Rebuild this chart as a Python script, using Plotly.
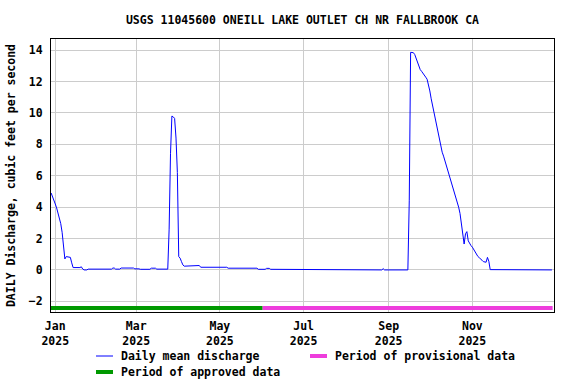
import plotly.graph_objects as go

# ---- data ----
dates = [
    "2024-12-29", "2024-12-30", "2024-12-31", "2025-01-01", "2025-01-02", "2025-01-03",
    "2025-01-04", "2025-01-05", "2025-01-06", "2025-01-07", "2025-01-08", "2025-01-09",
    "2025-01-12", "2025-01-13", "2025-01-14", "2025-01-19", "2025-01-20", "2025-01-21",
    "2025-01-22", "2025-01-24", "2025-01-25", "2025-02-11", "2025-02-12", "2025-02-13",
    "2025-02-14", "2025-02-17", "2025-02-18", "2025-02-27", "2025-02-28", "2025-03-03",
    "2025-03-04", "2025-03-11", "2025-03-12", "2025-03-15", "2025-03-16", "2025-03-24",
    "2025-03-25", "2025-03-26", "2025-03-27", "2025-03-28", "2025-03-29", "2025-03-30",
    "2025-03-31", "2025-04-01", "2025-04-02", "2025-04-03", "2025-04-04", "2025-04-05",
    "2025-04-15", "2025-04-16", "2025-04-17", "2025-05-06", "2025-05-07", "2025-05-28",
    "2025-05-29", "2025-06-03", "2025-06-04", "2025-06-06", "2025-06-07", "2025-07-24",
    "2025-07-25", "2025-07-26", "2025-08-22", "2025-08-23", "2025-08-27", "2025-08-28",
    "2025-08-29", "2025-09-15", "2025-09-16", "2025-09-17", "2025-09-18", "2025-09-19",
    "2025-09-20", "2025-09-21", "2025-09-22", "2025-09-23", "2025-09-24", "2025-09-25",
    "2025-09-26", "2025-09-27", "2025-09-28", "2025-09-29", "2025-09-30", "2025-10-01",
    "2025-10-02", "2025-10-03", "2025-10-04", "2025-10-05", "2025-10-06", "2025-10-07",
    "2025-10-08", "2025-10-09", "2025-10-10", "2025-10-11", "2025-10-12", "2025-10-13",
    "2025-10-14", "2025-10-15", "2025-10-16", "2025-10-17", "2025-10-18", "2025-10-19",
    "2025-10-20", "2025-10-21", "2025-10-22", "2025-10-23", "2025-10-24", "2025-10-25",
    "2025-10-26", "2025-10-27", "2025-10-28", "2025-10-29", "2025-10-30", "2025-10-31",
    "2025-11-01", "2025-11-02", "2025-11-03", "2025-11-04", "2025-11-05", "2025-11-06",
    "2025-11-07", "2025-11-08", "2025-11-09", "2025-11-10", "2025-11-11", "2025-11-12",
    "2025-11-13", "2025-11-14", "2025-12-29",
]
discharge = [
    4.9, 4.7, 4.45, 4.2, 3.95, 3.6,
    3.3, 2.95, 2.4, 1.3, 0.7, 0.85,
    0.8, 0.45, 0.15, 0.15, 0.2, 0.06,
    0.0, 0.0, 0.05, 0.05, 0.12, 0.12,
    0.05, 0.05, 0.12, 0.12, 0.07, 0.07,
    0.04, 0.04, 0.11, 0.11, 0.05, 0.05,
    2.6, 7.4, 9.8, 9.75, 9.65, 8.4,
    6.2, 0.85, 0.75, 0.53, 0.32, 0.24,
    0.24, 0.28, 0.17, 0.17, 0.11, 0.11,
    0.04, 0.04, 0.1, 0.1, 0.04, 0.04,
    0.0, 0.04, 0.04, 0.0, 0.0, 0.08,
    0.0, 0.0, 4.4, 13.86, 13.86, 13.84,
    13.72, 13.47, 13.2, 12.99, 12.76, 12.65,
    12.5, 12.38, 12.28, 12.15, 11.85, 11.4,
    10.9, 10.45, 10.0, 9.6, 9.14, 8.65,
    8.2, 7.9, 7.5, 7.25, 6.95, 6.65,
    6.35, 6.05, 5.78, 5.5, 5.15, 4.95,
    4.7, 4.35, 4.0, 3.6, 2.95, 2.3,
    1.65, 2.3, 2.44, 1.85, 1.65, 1.55,
    1.45, 1.3, 1.1, 0.93, 0.86, 0.78,
    0.72, 0.62, 0.53, 0.49, 0.49, 0.8,
    0.55, 0.02, 0.0,
]

approved_period = ["2024-12-28 12:00", "2025-06-01"]
provisional_period = ["2025-06-01", "2025-12-29 12:00"]
period_bar_level = -2.42

tick_dates = ["2025-01-01", "2025-03-01", "2025-05-01", "2025-07-01", "2025-09-01", "2025-11-01"]
tick_labels = ["Jan<br>2025", "Mar<br>2025", "May<br>2025", "Jul<br>2025", "Sep<br>2025", "Nov<br>2025"]
y_ticks = [-2, 0, 2, 4, 6, 8, 10, 12, 14]

title_text = "USGS 11045600 ONEILL LAKE OUTLET CH NR FALLBROOK CA"
y_title = "DAILY Discharge, cubic feet per second"
legend_names = ["Daily mean discharge", "Period of provisional data", "Period of approved data"]

FONT = "DejaVu Sans Mono"
FS = 11.5
BLUE, PINK, GREEN = "#0000ff", "#ee3ddc", "#009900"

fig = go.Figure()
fig.add_trace(go.Scatter(
    x=dates, y=discharge, mode="lines", name=legend_names[0],
    line=dict(color=BLUE, width=1),
))
fig.add_trace(go.Scatter(
    x=provisional_period, y=[period_bar_level] * 2, mode="lines",
    name=legend_names[1], line=dict(color=PINK, width=4),
))
fig.add_trace(go.Scatter(
    x=approved_period, y=[period_bar_level] * 2, mode="lines",
    name=legend_names[2], line=dict(color=GREEN, width=4),
))

W, H = 576, 384
L, R, T, B = 51, 554, 39, 312  # plot area in pixels


def px_x(p):
    return (p - L) / (R - L)


def px_y(p):
    return (B - p) / (B - T)


# legend drawn by hand below the plot (sample, label)
legend_items = [
    (96, 113, 356, BLUE, 1, legend_names[0]),
    (310, 327, 356, PINK, 4, legend_names[1]),
    (96, 113, 372, GREEN, 4, legend_names[2]),
]
for x0, x1, yy, col, w, name in legend_items:
    fig.add_shape(type="line", xref="paper", yref="paper",
                  x0=px_x(x0), x1=px_x(x1), y0=px_y(yy), y1=px_y(yy),
                  line=dict(color=col, width=w))
    fig.add_annotation(xref="paper", yref="paper", x=px_x(x1 + 6), y=px_y(yy),
                       xanchor="left", yanchor="middle", showarrow=False, text=name,
                       font=dict(family=FONT, size=FS, color="black", weight="bold"))

fig.update_layout(
    width=W, height=H,
    margin=dict(l=L, r=W - R, t=T, b=H - B, pad=0, autoexpand=False),
    paper_bgcolor="white", plot_bgcolor="white",
    font=dict(family=FONT, size=FS, color="black", weight="bold"),
    title=dict(text=title_text, x=0.5, xref="paper", xanchor="center",
               y=1 - 20 / H, yref="container", yanchor="middle",
               font=dict(family=FONT, size=FS, color="black", weight="bold")),
    showlegend=False,
    xaxis=dict(
        type="date", automargin=False,
        range=["2024-12-28 21:36", "2025-12-30 12:00"],
        tickmode="array", tickvals=tick_dates, ticktext=tick_labels,
        showgrid=True, gridcolor="#cccccc", gridwidth=1,
        showline=True, linecolor="black", linewidth=1, mirror=True,
        ticks="", ticklabelstandoff=3, zeroline=False,
        tickfont=dict(family=FONT, size=FS, color="black", weight="bold"),
    ),
    yaxis=dict(
        automargin=False,
        range=[-2.68, 14.71],
        tickmode="array", tickvals=y_ticks,
        showgrid=True, gridcolor="#cccccc", gridwidth=1,
        showline=True, linecolor="black", linewidth=1, mirror=True,
        ticks="", ticklabelstandoff=5, zeroline=False,
        tickfont=dict(family=FONT, size=FS, color="black", weight="bold"),
        title=dict(text=y_title, standoff=10,
                   font=dict(family=FONT, size=FS, color="black", weight="bold")),
    ),
)

fig.write_html("out.html")
